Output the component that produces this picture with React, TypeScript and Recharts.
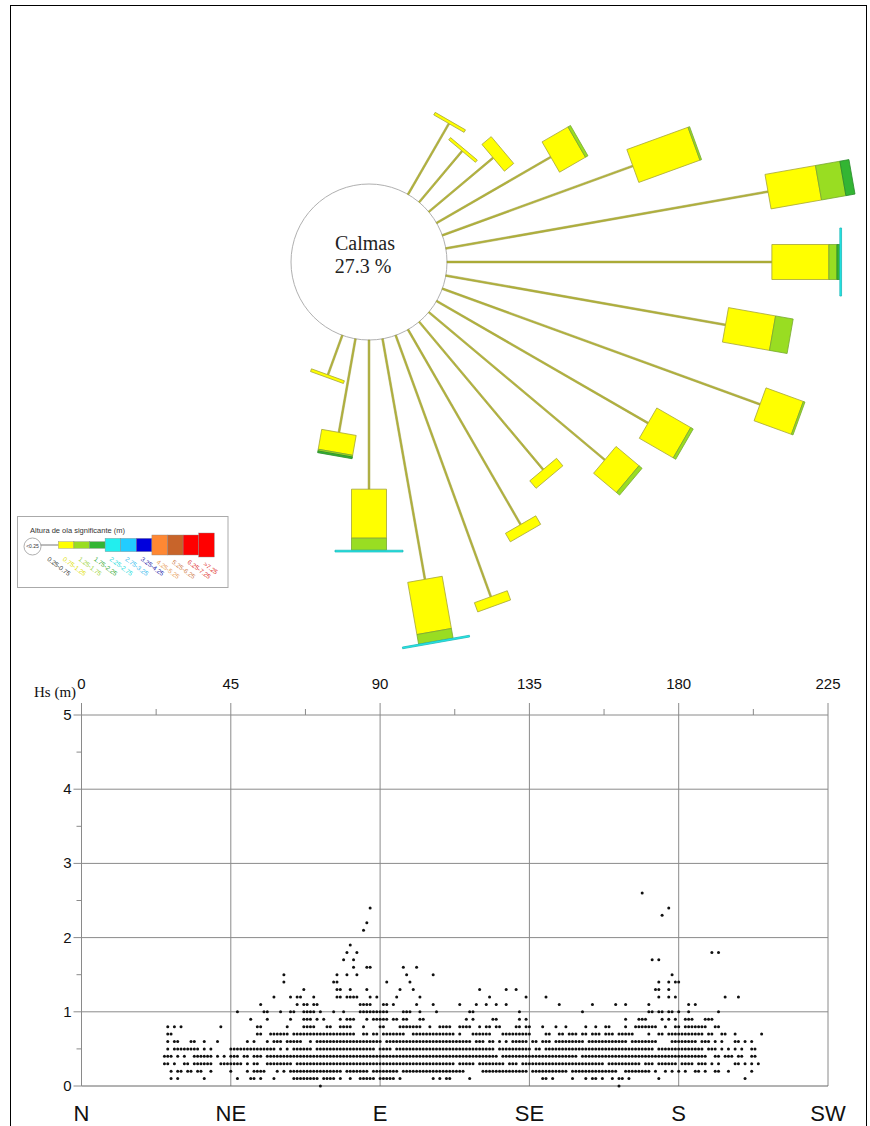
import React from "react";
import {
  RadialBarChart,
  RadialBar,
  PolarAngleAxis,
  PolarRadiusAxis,
  PolarGrid,
  ScatterChart,
  Scatter,
  XAxis,
  YAxis,
  ReferenceLine,
} from "recharts";

// ---- rose: % of records per direction (deg) and Hs class
const roseDirs = [30, 40, 50, 60, 70, 80, 90, 100, 110, 120, 130, 140, 150, 160, 170, 180, 190, 200];
const calmas = 27.3;
const pct025_075 = [1.42, 1.16, 1.46, 2.29, 3.52, 5.68, 5.64, 4.93, 5.87, 4.24, 3.99, 3.35, 3.91, 4.83, 4.24, 2.59, 1.65, 0.73];
const pct075_125 = [0.05, 0.05, 0.21, 0.52, 1.13, 0.89, 0.99, 0.83, 0.69, 0.68, 0.52, 0.17, 0.17, 0.17, 0.92, 0.85, 0.35, 0.05];
const pct125_175 = [0, 0, 0, 0.05, 0.03, 0.43, 0.14, 0.31, 0.03, 0.05, 0.07, 0, 0, 0, 0.17, 0.21, 0.03, 0];
const pct175_225 = [0, 0, 0, 0, 0, 0.16, 0.05, 0, 0, 0, 0, 0, 0, 0, 0, 0, 0.03, 0];
const pct225_275 = [0, 0, 0, 0, 0, 0, 0.03, 0, 0, 0, 0, 0, 0, 0, 0.03, 0.03, 0, 0];

const hsClasses = [
  "0.25-0.75", "0.75-1.25", "1.25-1.75", "1.75-2.25", "2.25-2.75", "2.75-3.25",
  "3.25-4.25", "4.25-5.25", "5.25-6.25", "6.25-7.25", ">7.25",
];
const classFill = ["#b4b43c", "#ffff00", "#99dd22", "#33b533", "#22eeee", "#22ccff", "#0000dd", "#ff8833", "#c8642a", "#ff0000", "#ff0000"];
const classText = ["#333333", "#e0e000", "#9bd33c", "#33aa33", "#22dddd", "#33bbee", "#2222aa", "#e8a060", "#d08050", "#e03030", "#e03030"];

// ---- scatter: Hs (m) levels and the directions (deg) with a record at that level
const hsLevels = [0, 0.1, 0.2, 0.3, 0.4, 0.5, 0.6, 0.7, 0.8, 0.9, 1.0, 1.1, 1.2, 1.3, 1.4, 1.5, 1.6, 1.7, 1.8, 1.9, 2.1, 2.2, 2.3, 2.4, 2.6];
const dirsAtLevel = [
  "72 162",
  "27 29 37 47 51-52 54 58 64-71 73-76 78 81 84-88 90-94 96 106 108 110-111 117 139-140 142 148 152 154-155 157 160 162-163 165 174 200",
  "27 29-30 32-33 35-36 39 45 50 52-55 59 61 63-78 80-86 88-95 97-115 121-134 136-146 148-161 164-171 173 176 178 180 182 185-186 188 191-192 195 202",
  "25-26 28 31-32 34-39 42-48 50 52-53 56-63 65-112 114-118 120-127 129-131 133-157 159-168 170-172 174-179 181-184 186-188 190 192 197-198 200 202 204",
  "25-27 29 31 34-39 41 43 45-47 49-50 52-54 56-125 127-149 151-188 191-192 194-196 198-199 202-203",
  "26 28-35 37 39 45-58 60 62 64-69 71-88 90-93 95-124 126-135 137-138 140-172 174-187 189-191 193 195 197 199 202-203",
  "26 28-29 33-34 37 41 50 52 56 58-60 62-66 69 71-90 92-117 119-121 123-124 126 128 130-134 136-137 139-141 143-151 153-164 166-173 178-185 187-189 191 193 197-198 200 202",
  "26-27 53-54 57-62 64-82 85-86 88-89 91-97 100-112 114 118-123 127-135 140-141 144-145 147-149 151-152 154-156 158-160 162-166 171 174-175 177-187 189-190 193-194 197 205",
  "26 28 30 42 53-54 62 67-70 74-75 78-81 85 90-91 96-102 105 108-111 114-117 120 122-123 125-126 131-132 134-135 139 143 146 152 155 158-159 164 167-173 176 179-180 182-188 191-192",
  "51 56 63 67-69 71 73 78 80-82 86 88-92 94-95 97-98 102-103 116 118 124-125 132 134 164 168-170 175 177 179 182-184 188-190",
  "47 55-56 60 63-64 67-70 72 76 79 84-92 97-99 102 107 117-118 132 151 171-172 174-175 177-178 180 183 192",
  "54 65 67-68 70-71 84-87 91-92 94 101 106 114 119 122 125 128 144 154 161 164 171 183 185",
  "58 63 65-66 70 77-78 80-83 87 89 95 102 123 134 140 174 177 179 194 198",
  "67 77-78 81 86 96 100 120 128 131 173-174 177",
  "61 76-77 92 99 174 177 179-180",
  "61 77 80 83 98 106 178",
  "82 86-87 97 101",
  "79 82 172 174",
  "80 83 190 192",
  "81",
  "85",
  "86",
  "175",
  "87 177",
  "169",
];

const dirTicksTop = [0, 22.5, 45, 67.5, 90, 112.5, 135, 157.5, 180, 202.5, 225];
const dirTicks = [0, 45, 90, 135, 180, 225];
const dirNames = ["N", "NE", "E", "SE", "S", "SW"];
const hsTicks = [0, 0.5, 1, 1.5, 2, 2.5, 3, 3.5, 4, 4.5, 5];
const hsGrid = [1, 2, 3, 4];

const roseData = roseDirs.map((dir, i) => ({
  dir,
  c0: pct025_075[i],
  c1: pct075_125[i],
  c2: pct125_175[i],
  c3: pct175_225[i],
  c4: pct225_275[i],
}));

const roseSeries = [
  { key: "c0", width: 1.8, fill: classFill[0], stroke: "#94942f" },
  { key: "c1", width: 35, fill: classFill[1], stroke: "#a5a53a" },
  { key: "c2", width: 35, fill: classFill[2], stroke: "#77a830" },
  { key: "c3", width: 35, fill: classFill[3], stroke: "#2a8a2a" },
  { key: "c4", width: 68, fill: classFill[4], stroke: "#20b8b8" },
];

const dots = hsLevels.flatMap((hs, i) =>
  dirsAtLevel[i].split(" ").flatMap((tok) => {
    const [a, b] = tok.split("-").map(Number);
    const out: { dir: number; hs: number }[] = [];
    for (let d = a; d <= (b ?? a); d++) out.push({ dir: d, hs });
    return out;
  })
);

const narrow = "'Liberation Sans Narrow', 'Liberation Sans', Arial, sans-serif";
const serif = "'Liberation Serif', 'Times New Roman', serif";
const grid = "#8a8a8a";

// rectangle along the spoke, from inner to outer radius
function spokeShape(width: number, fill: string, stroke: string) {
  return (props: any) => {
    const { cx, cy, innerRadius, outerRadius, startAngle, endAngle } = props;
    if (!(outerRadius - innerRadius > 0.05)) return <g />;
    const a = (((startAngle + endAngle) / 2) * Math.PI) / 180;
    const ux = Math.cos(a);
    const uy = -Math.sin(a);
    const px = -uy;
    const py = ux;
    const h = width / 2;
    const pts = [
      [cx + innerRadius * ux + h * px, cy + innerRadius * uy + h * py],
      [cx + outerRadius * ux + h * px, cy + outerRadius * uy + h * py],
      [cx + outerRadius * ux - h * px, cy + outerRadius * uy - h * py],
      [cx + innerRadius * ux - h * px, cy + innerRadius * uy - h * py],
    ]
      .map((p) => p.join(","))
      .join(" ");
    return <polygon points={pts} fill={fill} stroke={stroke} strokeWidth={width < 3 ? 0.5 : 0.8} />;
  };
}

const TopTick = ({ x, y, payload }: any) => {
  const major = payload.value % 45 === 0;
  return (
    <g>
      <line x1={x} x2={x} y1={y} y2={y - (major ? 12 : 6)} stroke={grid} />
      {major && (
        <text x={x} y={y - 26} textAnchor="middle" fontSize={15} fontFamily={narrow} fill="#111">
          {payload.value}
        </text>
      )}
    </g>
  );
};

const LeftTick = ({ x, y, payload }: any) => {
  const major = payload.value % 1 === 0;
  return (
    <g>
      <line x1={x - (major ? 8 : 5)} x2={x} y1={y} y2={y} stroke={grid} />
      {major && (
        <text x={x - 10} y={y + 5} textAnchor="end" fontSize={15} fontFamily={narrow} fill="#111">
          {payload.value}
        </text>
      )}
    </g>
  );
};

const BottomTick = ({ x, y, payload }: any) => (
  <text x={x} y={y + 35} textAnchor="middle" fontSize={22} fontFamily={narrow} fill="#111">
    {dirNames[dirTicks.indexOf(Number(payload.value))]}
  </text>
);

const legendH = [0, 6.7, 6.7, 6.7, 13.3, 13.3, 13.3, 20, 20, 20, 24];

function RoseLegend() {
  return (
    <g fontFamily="'Liberation Sans', Arial, sans-serif">
      <rect x={17.5} y={516.5} width={210.5} height={71} fill="#fff" stroke="#aaa" />
      <text x={30} y={533} fontSize={7.5} fill="#333">
        Altura de ola significante (m)
      </text>
      <circle cx={32.5} cy={546.5} r={8.5} fill="#fff" stroke="#999" strokeWidth={0.8} />
      <text x={32.5} y={548.3} fontSize={5} textAnchor="middle" fill="#333">
        {"<0.25"}
      </text>
      <line x1={41} x2={58.3} y1={545} y2={545} stroke="#555" strokeWidth={0.8} />
      {hsClasses.map((c, i) => {
        const h = legendH[i];
        const bx = 58.3 + 15.6 * (i - 1);
        const lx = 46.7 + 15.6 * i;
        const ly = i < 7 ? 560 : i < 10 ? 563 : 565;
        return (
          <g key={c}>
            {i > 0 && (
              <rect x={bx} y={545 - h / 2} width={15.6} height={h} fill={classFill[i]} stroke="#888" strokeWidth={0.4} />
            )}
            <text x={lx} y={ly} fontSize={6.4} fill={classText[i]} transform={`rotate(37 ${lx} ${ly})`}>
              {c}
            </text>
          </g>
        );
      })}
    </g>
  );
}

export default function App() {
  return (
    <div style={{ position: "absolute", left: 0, top: 0, width: 870, height: 1126, background: "#fff", overflow: "hidden" }}>
      <div style={{ position: "absolute", left: 0, top: 0 }}>
        <RadialBarChart
          width={870}
          height={660}
          data={roseData}
          layout="centric"
          cx={369}
          cy={262}
          innerRadius={78}
          outerRadius={538.8}
          startAngle={90}
          endAngle={-270}
          margin={{ top: 0, right: 0, bottom: 0, left: 0 }}
        >
          <PolarAngleAxis type="number" dataKey="dir" domain={[0, 360]} tick={false} tickLine={false} axisLine={false} />
          <PolarRadiusAxis type="number" domain={[0, 8]} tick={false} axisLine={false} />
          <PolarGrid gridType="circle" radialLines={false} polarRadius={[78]} stroke="#b0b0b0" />
          {roseSeries.map((s) => (
            <RadialBar
              key={s.key}
              dataKey={s.key}
              stackId="rose"
              shape={spokeShape(s.width, s.fill, s.stroke)}
              isAnimationActive={false}
              legendType="none"
            />
          ))}
        </RadialBarChart>
      </div>

      <div style={{ position: "absolute", left: 0, top: 650 }}>
        <ScatterChart width={870} height={476} margin={{ top: 30, right: 42, bottom: 0, left: 21.5 }}>
          <XAxis
            xAxisId="top"
            orientation="top"
            type="number"
            dataKey="dir"
            domain={[0, 225]}
            ticks={dirTicksTop}
            interval={0}
            height={35}
            tickSize={0}
            tickMargin={0}
            tickLine={false}
            axisLine={{ stroke: grid }}
            tick={(p: any) => <TopTick {...p} />}
          />
          <XAxis
            xAxisId="bottom"
            orientation="bottom"
            type="number"
            dataKey="dir"
            domain={[0, 225]}
            ticks={dirTicks}
            interval={0}
            height={40}
            tickSize={0}
            tickMargin={0}
            tickLine={false}
            axisLine={{ stroke: "#666" }}
            tick={(p: any) => <BottomTick {...p} />}
          />
          <YAxis
            type="number"
            dataKey="hs"
            domain={[0, 5]}
            ticks={hsTicks}
            interval={0}
            width={60}
            tickSize={0}
            tickMargin={0}
            tickLine={false}
            axisLine={{ stroke: grid }}
            tick={(p: any) => <LeftTick {...p} />}
          />
          {hsGrid.map((v) => (
            <ReferenceLine key={"h" + v} y={v} xAxisId="top" stroke={grid} />
          ))}
          {dirTicks.slice(1).map((v) => (
            <ReferenceLine key={"v" + v} x={v} xAxisId="top" stroke={grid} />
          ))}
          <Scatter
            xAxisId="bottom"
            data={dots}
            isAnimationActive={false}
            legendType="none"
            shape={() => <g />}
          />
          <Scatter
            xAxisId="top"
            data={dots}
            isAnimationActive={false}
            shape={(p: any) => <circle cx={p.cx} cy={p.cy} r={1.5} fill="#111" />}
          />
        </ScatterChart>
      </div>

      <svg width={870} height={1126} style={{ position: "absolute", left: 0, top: 0, pointerEvents: "none" }}>
        <text x={365} y={250} textAnchor="middle" fontSize={20} fontFamily={serif} fill="#222">
          Calmas
        </text>
        <text x={363} y={273} textAnchor="middle" fontSize={20} fontFamily={serif} fill="#222">
          {calmas} %
        </text>
        <text x={34} y={697} fontSize={15} fontFamily={serif} fill="#111">
          Hs (m)
        </text>
        <RoseLegend />
      </svg>

      <div
        style={{
          position: "absolute",
          left: 10,
          top: 5,
          width: 857,
          height: 1130,
          border: "1.5px solid #000",
          boxSizing: "border-box",
          pointerEvents: "none",
        }}
      />
    </div>
  );
}
